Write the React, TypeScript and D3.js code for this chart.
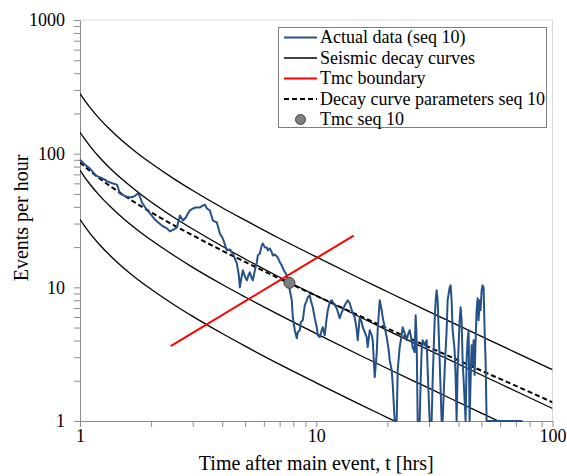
import React, { useEffect, useRef } from "react";
import * as d3 from "d3";

// ---------- data ----------
const xTickValues = [1, 10, 100];
const yTickValues = [1, 10, 100, 1000];

// Actual data (seq 10): time after main event [hrs] and events per hour
const actualT = [
  1.0, 1.06, 1.102, 1.169, 1.251, 1.313, 1.379, 1.434, 1.476, 1.565,
  1.627, 1.692, 1.759, 1.794, 1.829, 1.902, 1.977, 2.096, 2.222, 2.333,
  2.402, 2.497, 2.572, 2.648, 2.726, 2.807, 2.862, 2.919, 3.005, 3.094,
  3.217, 3.312, 3.377, 3.444, 3.546, 3.651, 3.796, 3.909, 4.024, 4.184,
  4.308, 4.436, 4.523, 4.612, 4.703, 4.749, 4.842, 4.89, 4.986, 5.084,
  5.184, 5.234, 5.337, 5.39, 5.496, 5.604, 5.658, 5.77, 5.883, 5.941,
  6.058, 6.177, 6.237, 6.36, 6.485, 6.548, 6.677, 6.875, 7.01, 7.148,
  7.289, 7.504, 7.652, 7.727, 7.879, 7.956, 8.113, 8.272, 8.353, 8.517,
  8.6, 8.77, 8.942, 9.118, 9.207, 9.388, 9.48, 9.667, 9.856, 10.05,
  10.15, 10.35, 10.55, 10.65, 10.86, 11.08, 11.19, 11.41, 11.63, 11.97,
  12.21, 12.57, 12.82, 12.95, 13.2, 13.59, 13.86, 14.13, 14.55, 14.84,
  14.98, 15.28, 15.58, 15.73, 16.04, 16.35, 16.51, 16.84, 17.17, 17.34,
  17.68, 18.03, 18.2, 18.56, 18.92, 19.11, 19.49, 19.87, 20.26, 20.46,
  20.86, 21.06, 21.48, 21.9, 22.12, 22.55, 22.99, 23.22, 23.67, 24.14,
  24.38, 24.86, 25.34, 25.59, 26.1, 26.35, 26.61, 26.87, 27.4, 27.67,
  27.94, 28.21, 28.77, 29.33, 29.62, 30.2, 30.79, 31.1, 31.71, 32.02,
  32.33, 32.65, 32.97, 33.29, 33.94, 34.28, 34.95, 35.64, 35.98, 36.69,
  37.05, 37.41, 37.78, 38.52, 38.9, 39.28, 39.66, 40.45, 40.84, 41.24,
  41.64, 42.46, 42.88, 43.3, 43.72, 44.15, 44.58, 45.02, 45.46, 45.9,
  46.35, 46.81, 47.26, 47.73, 48.19, 48.66, 49.14, 49.62, 50.11, 50.6,
  51.09, 51.59, 52.1, 52.61, 74.7,
];
const actualV = [
  90.3, 81.4, 77.3, 68.6, 65.1, 61.8, 59.8, 58.7, 50.3, 47.8,
  47.0, 47.8, 50.3, 47.8, 43.1, 38.9, 35.7, 31.6, 29.0, 27.6,
  26.2, 27.1, 28.05, 34.5, 31.6, 33.3, 35.7, 37.6, 38.9, 39.6,
  39.6, 40.9, 41.65, 38.9, 37.6, 31.6, 30.6, 25.3, 23.2, 18.9,
  19.2, 17.9, 16.5, 15.1, 12.3, 10.0, 12.3, 13.4, 12.08, 11.28,
  12.5, 12.94, 11.68, 11.28, 13.4, 15.37, 17.34, 17.9, 20.6, 21.3,
  19.9, 19.9, 18.9, 19.55, 18.25, 17.3, 17.6, 16.75, 15.4, 14.6,
  13.4, 12.3, 10.7, 9.5, 8.0, 5.97, 4.78, 4.16, 4.62, 4.78,
  5.48, 5.67, 7.34, 8.0, 8.42, 8.72, 8.0, 7.09, 5.87, 5.03,
  4.38, 4.24, 4.78, 5.03, 4.38, 5.97, 6.74, 7.73, 8.0, 7.34,
  6.97, 5.87, 6.51, 6.74, 7.34, 8.0, 7.6, 6.74, 5.97, 4.78,
  4.02, 5.97, 5.48, 5.03, 4.62, 4.24, 3.57, 4.78, 4.38, 4.02,
  2.13, 3.22, 4.78, 8.0, 6.74, 5.97, 5.03, 4.24, 3.39, 2.85,
  2.4, 1.92, 1, 1, 2.4, 3.57, 4.38, 5.03, 4.54, 4.02,
  4.38, 4.78, 4.02, 3.57, 3.27, 6.18, 4.02, 1, 1, 2.02,
  3.39, 4.02, 3.69, 4.02, 2.4, 1, 1, 2.02, 5.67, 8.0,
  9.5, 8.0, 4.78, 2.85, 1, 1, 2.4, 4.78, 8.0, 10.0,
  10.35, 8.0, 4.78, 3.39, 2.13, 1, 2.4, 5.67, 7.09, 5.67,
  2.85, 1.435, 1, 2.85, 4.02, 4.78, 1, 2.02, 3.69, 2.62,
  4.02, 2.21, 4.02, 6.74, 8.28, 5.67, 8.0, 6.74, 9.5, 10.35,
  10.0, 4.78, 2.85, 1, 1,
];

// Seismic decay curves, tabulated at these times
const curveT = [1, 1.05, 1.1, 1.2, 1.35, 1.5, 1.75, 2, 2.5, 3, 4, 5, 7, 10, 15, 20, 30, 50, 70, 100];
const decay1 = [281.8, 248.3, 222.6, 185.4, 149.5, 126.1, 100.9, 84.7, 64.8, 53.0, 39.4, 31.8, 23.2, 16.9, 11.85, 9.27, 6.58, 4.3, 3.25, 2.42];
const decay2 = [144.9, 127.7, 114.5, 95.3, 76.9, 64.8, 51.9, 43.5, 33.3, 27.3, 20.3, 16.3, 11.9, 8.67, 6.1, 4.77, 3.39, 2.21, 1.67, 1.24];
const decay3 = [75.1, 66.2, 59.3, 49.4, 39.9, 33.6, 26.9, 22.6, 17.3, 14.1, 10.5, 8.47, 6.19, 4.5, 3.16, 2.47, 1.76, 1.146, 0.867, 0.645];
const decay4 = [32.2, 28.4, 25.4, 21.2, 17.1, 14.4, 11.5, 9.68, 7.41, 6.06, 4.51, 3.63, 2.65, 1.93, 1.355, 1.06, 0.752, 0.491, 0.371, 0.276];
// Decay curve parameters seq 10
const fitted = [85.9, 79.7, 74.5, 66.0, 56.8, 50.0, 42.0, 36.4, 29.1, 24.5, 18.8, 15.5, 11.6, 8.64, 6.21, 4.93, 3.57, 2.38, 1.83, 1.38];

// Tmc boundary (two end points) and Tmc point
const tmcBoundaryT = [2.42, 14.4];
const tmcBoundaryV = [3.63, 24.4];
const tmcPointT = [7.7];
const tmcPointV = [10.8];

const legendLabels = [
  "Actual data (seq 10)",
  "Seismic decay curves",
  "Tmc boundary",
  "Decay curve parameters seq 10",
  "Tmc seq 10",
];

const FONT = "'Liberation Serif', 'Times New Roman', serif";
const BLUE = "#25518a";
const AXIS_GRAY = "#8c8c8c";

export default function App() {
  const ref = useRef<SVGSVGElement>(null);

  useEffect(() => {
    const svg = d3.select(ref.current);
    svg.selectAll("*").remove();

    const left = 80, right = 552.5, top = 20, bottom = 421;
    const x = d3.scaleLog().domain([1, 100]).range([left, right]);
    const y = d3.scaleLog().domain([1, 1000]).range([bottom, top]);

    svg.append("rect").attr("width", 567).attr("height", 476).attr("fill", "#fff");

    const defs = svg.append("defs");
    defs.append("clipPath").attr("id", "plotclip")
      .append("rect").attr("x", left).attr("y", top).attr("width", right - left).attr("height", bottom - top);

    // top / right border of plot area
    svg.append("path")
      .attr("d", `M${left},${top}H${right}V${bottom}`)
      .attr("fill", "none").attr("stroke", "#d9d9d9").attr("stroke-width", 1);

    // axes
    const xAxis = d3.axisBottom(x)
      .tickValues(x.ticks())
      .tickSize(6).tickSizeOuter(0).tickPadding(2)
      .tickFormat((d: any) => (xTickValues.includes(+d) ? String(+d) : ""));
    const gx = svg.append("g").attr("transform", `translate(0,${bottom})`).call(xAxis as any);

    const yAxis = d3.axisLeft(y)
      .tickValues(y.ticks())
      .tickSize(6).tickSizeOuter(0).tickPadding(9)
      .tickFormat((d: any) => (yTickValues.includes(+d) ? String(+d) : ""));
    const gy = svg.append("g").attr("transform", `translate(${left},0)`).call(yAxis as any);

    [gx, gy].forEach((g) => {
      g.select(".domain").attr("stroke", AXIS_GRAY).attr("stroke-width", 1);
      g.selectAll(".tick line").attr("stroke", AXIS_GRAY).attr("stroke-width", 1);
      g.selectAll(".tick text").attr("fill", "#000").attr("font-family", FONT).attr("font-size", 18);
    });

    const plot = svg.append("g").attr("clip-path", "url(#plotclip)");

    const curveLine = d3.line<number>()
      .x((_, i) => x(curveT[i]))
      .y((d) => y(d))
      .curve(d3.curveMonotoneX);

    [decay1, decay2, decay3, decay4].forEach((c) => {
      plot.append("path").attr("d", curveLine(c) as string)
        .attr("fill", "none").attr("stroke", "#000").attr("stroke-width", 1.3);
    });

    // actual data
    const actualLine = d3.line<number>()
      .x((_, i) => x(actualT[i]))
      .y((d) => y(d));
    svg.append("path").attr("d", actualLine(actualV) as string)
      .attr("fill", "none").attr("stroke", BLUE).attr("stroke-width", 2)
      .attr("stroke-linejoin", "round");

    // fitted dashed
    plot.append("path").attr("d", curveLine(fitted) as string)
      .attr("fill", "none").attr("stroke", "#000").attr("stroke-width", 2)
      .attr("stroke-dasharray", "5,3");

    // Tmc boundary
    const redLine = d3.line<number>().x((_, i) => x(tmcBoundaryT[i])).y((d) => y(d));
    svg.append("path").attr("d", redLine(tmcBoundaryV) as string)
      .attr("fill", "none").attr("stroke", "#ff0000").attr("stroke-width", 2);

    // Tmc point
    svg.selectAll("circle.tmc").data(tmcPointV).enter().append("circle")
      .attr("class", "tmc")
      .attr("cx", (_, i) => x(tmcPointT[i]))
      .attr("cy", (d) => y(d))
      .attr("r", 5.5)
      .attr("fill", "#7f7f7f").attr("stroke", "#404040").attr("stroke-width", 1);

    // axis titles
    svg.append("text").attr("x", (left + right) / 2).attr("y", 470)
      .attr("text-anchor", "middle").attr("font-family", FONT).attr("font-size", 20)
      .text("Time after main event, t [hrs]");
    svg.append("text").attr("transform", "translate(28,218) rotate(-90)")
      .attr("text-anchor", "middle").attr("font-family", FONT).attr("font-size", 20)
      .text("Events per hour");

    // legend
    const lg = svg.append("g");
    lg.append("rect").attr("x", 278.5).attr("y", 27.5).attr("width", 268).attr("height", 100)
      .attr("fill", "#fff").attr("stroke", "#7f7f7f").attr("stroke-width", 1);
    const rowY = (i: number) => 37.5 + i * 20.5;
    const lx1 = 284, lx2 = 317;
    legendLabels.forEach((lab, i) => {
      const yy = rowY(i);
      if (i === 0) lg.append("line").attr("x1", lx1).attr("x2", lx2).attr("y1", yy).attr("y2", yy).attr("stroke", BLUE).attr("stroke-width", 2);
      if (i === 1) lg.append("line").attr("x1", lx1).attr("x2", lx2).attr("y1", yy).attr("y2", yy).attr("stroke", "#000").attr("stroke-width", 1.3);
      if (i === 2) lg.append("line").attr("x1", lx1).attr("x2", lx2).attr("y1", yy).attr("y2", yy).attr("stroke", "#ff0000").attr("stroke-width", 2);
      if (i === 3) lg.append("line").attr("x1", lx1).attr("x2", lx2).attr("y1", yy).attr("y2", yy).attr("stroke", "#000").attr("stroke-width", 2).attr("stroke-dasharray", "5,3");
      if (i === 4) lg.append("circle").attr("cx", (lx1 + lx2) / 2).attr("cy", yy).attr("r", 5)
        .attr("fill", "#7f7f7f").attr("stroke", "#404040").attr("stroke-width", 1);
      lg.append("text").attr("x", 320).attr("y", yy).attr("dy", "0.33em")
        .attr("font-family", FONT).attr("font-size", 18).attr("fill", "#000").text(lab);
    });
  }, []);

  return (
    <svg
      ref={ref}
      width={567}
      height={476}
      style={{ position: "absolute", left: 0, top: 0, display: "block" }}
    />
  );
}
